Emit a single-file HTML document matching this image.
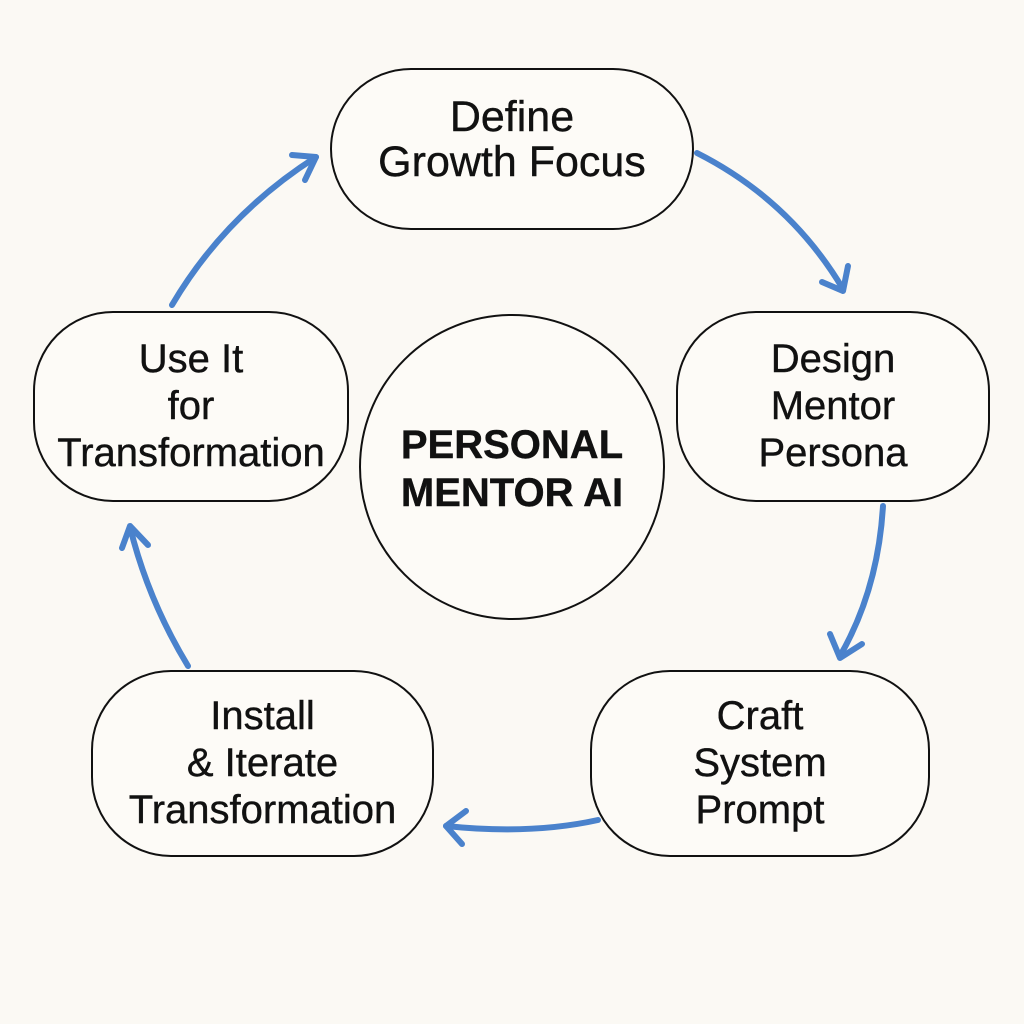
<!DOCTYPE html>
<html><head><style>
body{margin:0;background:#fbf9f4;}
.n{position:absolute;box-sizing:border-box;border:2.8px solid #111;background:#fdfbf7;display:flex;align-items:center;justify-content:center;text-align:center;font-family:"Liberation Sans",sans-serif;font-size:40px;line-height:47px;color:#111;-webkit-text-stroke:0.4px #111;}
</style></head><body>
<div style="position:relative;width:1024px;height:1024px;overflow:hidden;">
<svg width="1024" height="1024" style="position:absolute;left:0;top:0" fill="none" stroke="#4a82cc" stroke-width="6" stroke-linecap="round" stroke-linejoin="round">
<path d="M697 153 Q790 200 843 289"/><path d="M822 282 L843 291 L848 266"/>
<path d="M883 506 Q878 590 840 656"/><path d="M830 634 L840 658 L862 644"/>
<path d="M598 820 Q530 835 446 826"/><path d="M466 811 L446 826 L462 844"/>
<path d="M188 666 Q148 600 130 527"/><path d="M122 548 L130 526 L148 545"/>
<path d="M172 305 Q225 215 316 157"/><path d="M292 155 L316 157 L305 180"/>
</svg>
<div class="n" style="left:330px;top:68px;width:364px;height:162px;border-radius:81px;font-size:43px;line-height:45px;padding-bottom:18px;">Define<br>Growth Focus</div>
<div class="n" style="left:676px;top:311px;width:314px;height:191px;border-radius:80px;">Design<br>Mentor<br>Persona</div>
<div class="n" style="left:590px;top:670px;width:340px;height:187px;border-radius:80px;">Craft<br>System<br>Prompt</div>
<div class="n" style="left:91px;top:670px;width:343px;height:187px;border-radius:80px;">Install<br>&amp; Iterate<br>Transformation</div>
<div class="n" style="left:33px;top:311px;width:316px;height:191px;border-radius:80px;">Use It<br>for<br>Transformation</div>
<div class="n" style="left:359px;top:314px;width:306px;height:306px;border-radius:50%;font-weight:bold;font-size:40px;line-height:48px;padding-top:4px;">PERSONAL<br>MENTOR AI</div>
</div>
</body></html>
